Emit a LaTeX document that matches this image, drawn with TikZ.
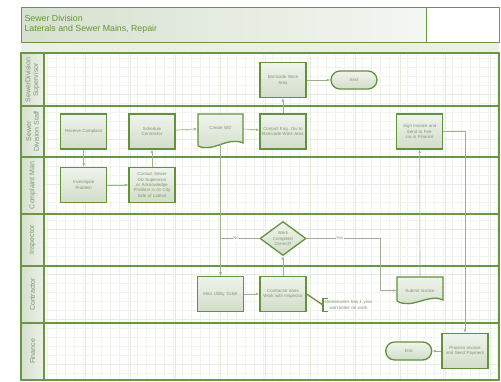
\documentclass[tikz,border=0pt]{standalone}
\usepackage{fontspec}
\setmainfont{Liberation Sans}
\usetikzlibrary{shapes.geometric,arrows.meta}

\definecolor{laneline}{RGB}{104,152,66}
\definecolor{boxline}{RGB}{98,146,60}
\definecolor{boxfill}{RGB}{210,221,202}
\definecolor{labeltext}{RGB}{128,150,110}
\definecolor{flowline}{RGB}{156,178,138}
\definecolor{gridminor}{RGB}{240,244,237}
\definecolor{gridmajor}{RGB}{230,236,225}
\definecolor{titletext}{RGB}{98,152,50}

\begin{document}
\begin{tikzpicture}[x=1pt,y=-1pt]

\tikzset{
  BoxStyle/.style   = {draw=boxline, line width=1.3pt, top color=boxfill!35, bottom color=boxfill,
                       minimum width=46pt, minimum height=35pt, inner sep=1pt, align=center,
                       text width=42pt, text=labeltext, font=\fontsize{4.4}{5.3}\selectfont},
  DocText/.style    = {minimum width=46pt, minimum height=27pt, inner sep=1pt, align=center,
                       text width=42pt, text=labeltext, font=\fontsize{4.4}{5.3}\selectfont},
  DocLine/.style    = {draw=boxline, line width=1.3pt, top color=boxfill!35, bottom color=boxfill},
  EndStyle/.style   = {BoxStyle, minimum height=18pt, rounded corners=9pt},
  AskStyle/.style   = {BoxStyle, diamond, shape aspect=1.4, minimum width=46pt, minimum height=34pt,
                       text width=22pt, inner sep=0pt},
  FlowStyle/.style  = {draw=flowline, line width=0.6pt, -{Latex[length=3.5pt,width=2.6pt]}},
  FlowLabel/.style  = {fill=white, inner sep=0.6pt, text=labeltext, font=\fontsize{4.2}{5}\selectfont},
  NoteStyle/.style  = {draw=boxline, line width=1.3pt},
  LaneStyle/.style  = {rotate=90, align=center, text=labeltext, font=\fontsize{7}{7.8}\selectfont},
}

\useasboundingbox (0,0) rectangle (501,382);

% title block
\shade[left color=boxfill!90, right color=boxfill!25, draw=laneline, line width=1pt] (21,8) rectangle (426,43);
\draw[draw=laneline, line width=1pt, fill=white] (426,8) rectangle (499,43);
\node[anchor=west, text=titletext, align=left, font=\fontsize{8.8}{9.6}\selectfont] (title) at (21,24)
  {Sewer Division\\Laterals and Sewer Mains, Repair};
\fill[boxfill!45] (21,43) rectangle (499,53);

% grid
\foreach \x in {47,56,...,499}
  \draw[gridminor, line width=0.4pt] (\x,53) -- (\x,380);
\foreach \y in {58,67,...,380}
  \draw[gridminor, line width=0.4pt] (44,\y) -- (499,\y);
\foreach \x in {85,130,...,499}
  \draw[gridmajor, line width=0.5pt] (\x,53) -- (\x,380);
\foreach \y in {94,139,...,380}
  \draw[gridmajor, line width=0.5pt] (44,\y) -- (499,\y);

% lanes
\shade[left color=boxfill!90, right color=boxfill!45] (21,53) rectangle (44,380);
\foreach \y in {106,157,214,266,323}
  \draw[laneline, line width=1.3pt] (21,\y) -- (499,\y);
\draw[laneline, line width=1.3pt] (21,53) rectangle (499,380);
\draw[laneline, line width=1.3pt] (44,53) -- (44,380);
\draw[laneline, line width=1pt] (21,43) -- (499,43);

\node[LaneStyle] (supervisor) at (32.5,80)    {SewerDivision\\Supervisor};
\node[LaneStyle] (staff)      at (32.5,131.5) {Sewer\\Division Staff};
\node[LaneStyle] (complaint)  at (32.5,185.5) {Complaint Man};
\node[LaneStyle] (inspector)  at (32.5,240)   {Inspector};
\node[LaneStyle] (contractor) at (32.5,294.5) {Contractor};
\node[LaneStyle] (finance)    at (32.5,351.5) {Finance};

% steps
\node[BoxStyle] (rc) at (83.7,131.5) {Receive Complaint};
\node[BoxStyle] (sc) at (152,131.5)  {Schedule\\Contractor};
\node[BoxStyle] (ip) at (83.7,185)   {Investigate\\Problem};
\node[BoxStyle] (cs) at (152,185)    {Contact Sewer Div Supervisor or Acknowledge Problem is on City Side of Lateral};
\node[BoxStyle] (bw) at (283,80)     {Barricade Work\\Area};
\node[EndStyle] (end1) at (354,80)   {End};
\node[BoxStyle] (ce) at (283,131.5)  {Contact Eng. Div to Barricade Work Area};
\node[BoxStyle] (sg) at (419.7,131.5) {Sign Invoice and Send to Felicia in Finance};
\node[AskStyle] (dc) at (283,238.5)  {Work\\Complete/\\Correct?};
\node[BoxStyle] (mu) at (220.5,294)  {Miss Utility Ticket};
\node[BoxStyle] (cw) at (283,294)    {Contractor does Work with Inspector};
\node[BoxStyle] (pi) at (465,351)    {Process Invoice and Send Payment};
\node[EndStyle] (end2) at (408.7,351) {End};

% documents
\draw[DocLine] (198,146) -- (198,114) -- (243,114) -- (243,143)
  .. controls (228,136) and (213,153) .. (198,146);
\node[DocText] (wo) at (220.5,127.5) {Create WO};
\draw[DocLine] (397,301) -- (397,277) -- (443,277) -- (443,300)
  .. controls (428,293) and (412,310) .. (397,301);
\node[DocText] (si) at (420,290.5) {Submit Invoice};

% annotation
\node[anchor=west, align=center, inner sep=1.5pt, text=labeltext, font=\fontsize{4.6}{6}\selectfont]
  (note) at (323,305) {Homeowner has 1 year\\warrantee on work};
\draw[NoteStyle] ([xshift=5pt]note.north west) -- (note.north west) -- (note.south west) -- ([xshift=5pt]note.south west);
\draw[NoteStyle] (cw.east) -- (note.west);

% flows
\draw[FlowStyle] (rc) -- (ip);
\draw[FlowStyle] (ip) -- (cs);
\draw[FlowStyle] (cs) -- (sc);
\draw[FlowStyle] (sc) -- (wo);
\draw[FlowStyle] (wo) -- (ce);
\draw[FlowStyle] (ce) -- (bw);
\draw[FlowStyle] (bw) -- (end1);
\draw[FlowStyle] ([yshift=-3pt]wo.south) -- (mu);
\draw[FlowStyle] (dc) -| node[FlowLabel, pos=0.3] {No} (mu);
\draw[FlowStyle] (mu) -- (cw);
\draw[FlowStyle] (cw) -- (dc);
\coordinate (yesturn) at (380,238.5);
\draw[FlowStyle] (dc) -- node[FlowLabel, pos=0.45] {Yes} (yesturn) |- (si);
\draw[FlowStyle] (420,277) -- (sg);
\draw[FlowStyle] (sg) -| (pi);
\draw[FlowStyle] (pi) -- (end2);

\end{tikzpicture}
\end{document}
